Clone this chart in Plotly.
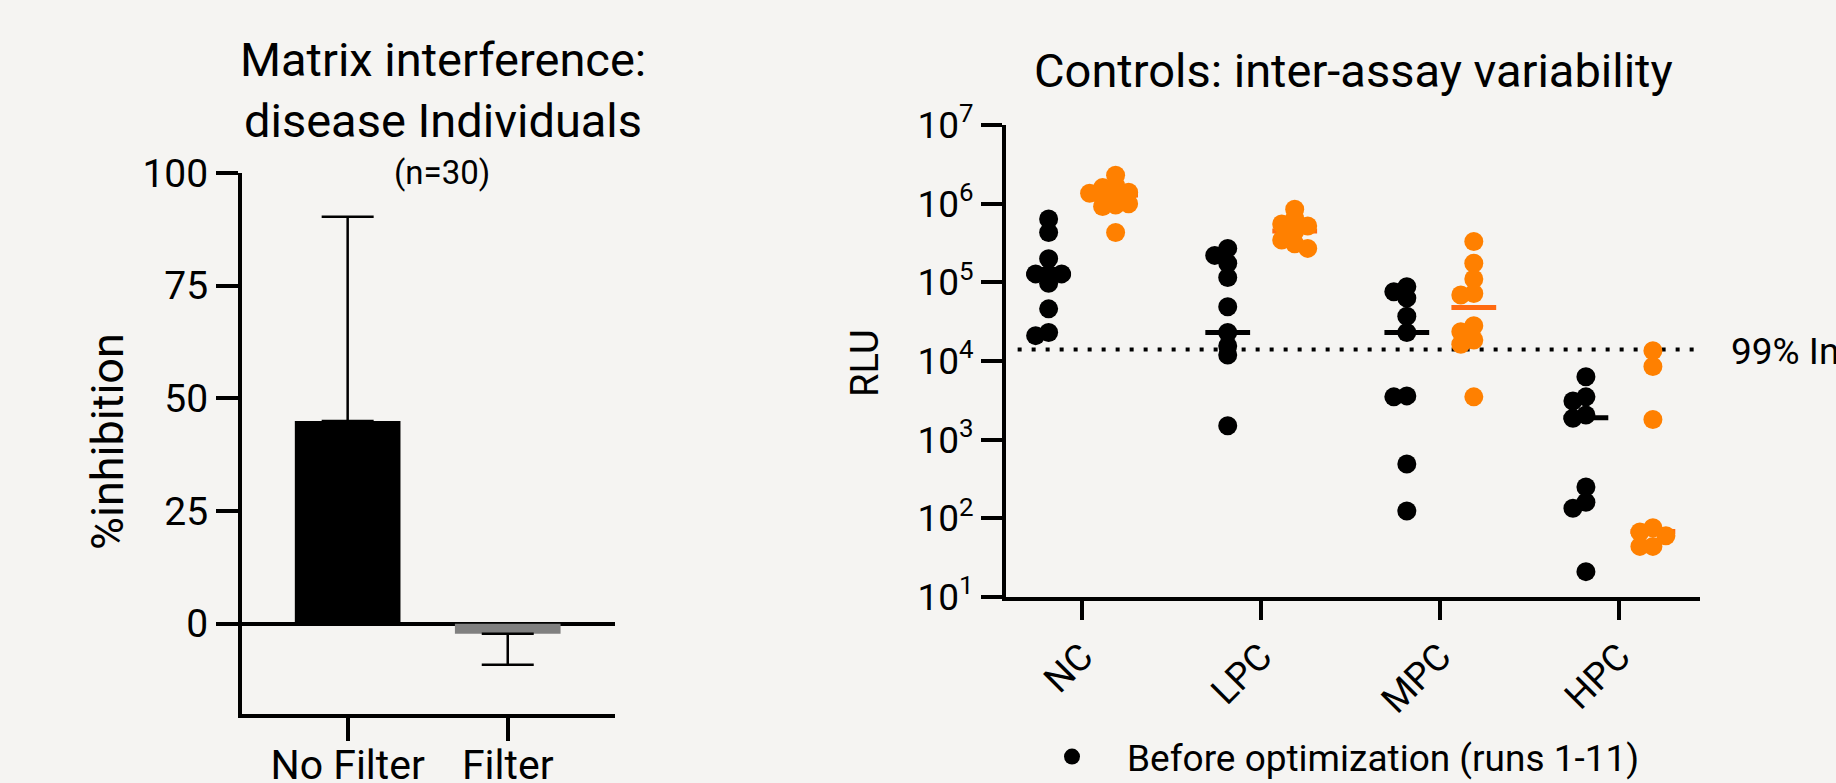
import numpy as np
import plotly.graph_objects as go

# ---------------- data ----------------
bar_categories = ["No Filter", "Filter"]
bar_means = [45.0, -2.2]
bar_err_up = [45.3, 0.0]
bar_err_down = [0.0, 6.9]
bar_colors = ["#000000", "#808080"]
bar_yticks = [0, 25, 50, 75, 100]

controls = ["NC", "LPC", "MPC", "HPC"]
rlu_exponents = [1, 2, 3, 4, 5, 6, 7]
before_nc = [6.4e5, 4.3e5, 2.0e5, 1.28e5, 1.28e5, 1.28e5, 9.7e4, 4.6e4, 2.3e4, 2.1e4]
before_lpc = [2.7e5, 2.2e5, 1.75e5, 1.15e5, 4.9e4, 2.3e4, 1.55e4, 1.19e4, 1.5e3]
before_mpc = [8.8e4, 7.6e4, 6.3e4, 3.7e4, 2.3e4, 3.6e3, 3.5e3, 490, 124]
before_hpc = [6.3e3, 3.5e3, 3.1e3, 2.06e3, 1.87e3, 250, 160, 134, 21]
after_nc = [2.3e6, 1.7e6, 1.6e6, 1.4e6, 1.36e6, 1.29e6, 1.2e6, 1.0e6, 9.6e5, 9.2e5, 4.3e5]
after_lpc = [8.5e5, 6.5e5, 5.5e5, 5.2e5, 4.4e5, 3.45e5, 3.1e5, 2.7e5]
after_mpc = [3.3e5, 1.75e5, 1.1e5, 7.2e4, 6.9e4, 2.8e4, 2.35e4, 1.85e4, 1.63e4, 3.5e3]
after_hpc = [1.35e4, 8.5e3, 1.8e3, 76, 67, 60, 44, 44]
before_center = [1.28e5, 2.3e4, 2.3e4, 1.9e3]
after_center = [1.29e6, 4.5e5, 4.8e4, 68]
threshold_99 = 1.4e4

# ---------------- layout constants ----------------
W, H = 1836, 783
FONT = "Roboto"
BG = "#F5F4F2"
ORANGE = "#FF8000"
ORANGE_LINE = "#FF6A10"

XRANGE2 = [-0.425, 3.45]
YRANGE2 = [1, 7]
X2_DOM = [1006 / W, 1700 / W]
Y2_DOM = [(H - 597) / H, (H - 125) / H]
PX_PER_UNIT = (X2_DOM[1] - X2_DOM[0]) * W / (XRANGE2[1] - XRANGE2[0])
PX_PER_DEC = (Y2_DOM[1] - Y2_DOM[0]) * H / (YRANGE2[1] - YRANGE2[0])
GROUP_OFF = 0.187
HALF_LINE = 0.125


def swarm(values, step_px=13.0, min_px=9.0):
    logs = np.log10(values) * PX_PER_DEC
    order = sorted(range(len(values)), key=lambda i: -logs[i])
    placed, offs = [], [0.0] * len(values)
    for i in order:
        y = logs[i]
        chosen = 0.0
        for k in [0, -1, 1, -2, 2, -3, 3, -4, 4]:
            dx = k * step_px
            if all((dx - px) ** 2 + (y - py) ** 2 >= min_px ** 2 for px, py in placed):
                chosen = dx
                break
        placed.append((chosen, y))
        offs[i] = chosen / PX_PER_UNIT
    return offs


fig = go.Figure()

# ---------------- left: bar chart ----------------
fig.add_trace(go.Bar(
    x=list(range(len(bar_categories))), y=bar_means,
    marker=dict(color=bar_colors, line=dict(width=0)),
    width=0.66,
    error_y=dict(type="data", symmetric=False, array=bar_err_up, arrayminus=bar_err_down,
                 color="black", thickness=2.5, width=26),
    xaxis="x", yaxis="y", showlegend=False,
))

# ---------------- right: scatter ----------------
before_sets = [before_nc, before_lpc, before_mpc, before_hpc]
after_sets = [after_nc, after_lpc, after_mpc, after_hpc]

for ci in range(len(controls)):
    xc = ci - GROUP_OFF
    fig.add_trace(go.Scatter(x=[xc - HALF_LINE, xc + HALF_LINE], y=[before_center[ci]] * 2,
                             mode="lines", line=dict(color="black", width=5),
                             xaxis="x2", yaxis="y2", showlegend=False, hoverinfo="skip"))
    xc = ci + GROUP_OFF
    fig.add_trace(go.Scatter(x=[xc - HALF_LINE, xc + HALF_LINE], y=[after_center[ci]] * 2,
                             mode="lines", line=dict(color=ORANGE_LINE, width=5),
                             xaxis="x2", yaxis="y2", showlegend=False, hoverinfo="skip"))

fig.add_trace(go.Scatter(x=[-0.36, 3.43], y=[threshold_99, threshold_99], mode="lines",
                         line=dict(color="black", width=4, dash="4px,10px"),
                         xaxis="x2", yaxis="y2", showlegend=False, hoverinfo="skip"))

bx, by, ax_, ay = [], [], [], []
for ci in range(len(controls)):
    offs = swarm(before_sets[ci])
    bx += [ci - GROUP_OFF + o for o in offs]
    by += before_sets[ci]
    offs = swarm(after_sets[ci])
    ax_ += [ci + GROUP_OFF + o for o in offs]
    ay += after_sets[ci]

fig.add_trace(go.Scatter(x=bx, y=by, mode="markers", name="Before optimization (runs 1-11)",
                         marker=dict(color="black", size=19, line=dict(width=0)),
                         xaxis="x2", yaxis="y2", showlegend=True))
fig.add_trace(go.Scatter(x=ax_, y=ay, mode="markers", name="After optimization",
                         marker=dict(color=ORANGE, size=19, line=dict(width=0)),
                         xaxis="x2", yaxis="y2", showlegend=False))

axis_common = dict(showgrid=False, showline=True, linecolor="black", ticks="outside",
                   tickcolor="black", color="black", automargin=False)

fig.update_layout(
    width=W, height=H,
    margin=dict(l=0, r=0, t=0, b=0, autoexpand=False),
    paper_bgcolor=BG, plot_bgcolor=BG,
    font=dict(family=FONT, color="black"),
    xaxis=dict(domain=[242 / W, 615 / W], anchor="y", range=[-0.66, 1.67],
               tickvals=list(range(len(bar_categories))), ticktext=bar_categories,
               linewidth=4, ticklen=23, tickwidth=4, zeroline=False,
               ticklabelstandoff=-11,
               tickfont=dict(size=41, family=FONT), **axis_common),
    yaxis=dict(domain=[(H - 714) / H, (H - 173) / H], anchor="x", range=[-20, 100],
               tickvals=bar_yticks, linewidth=4, ticklen=22, tickwidth=4,
               zeroline=True, zerolinecolor="black", zerolinewidth=4,
               tickfont=dict(size=39, family=FONT), **axis_common),
    xaxis2=dict(domain=X2_DOM, anchor="y2", range=XRANGE2,
                tickvals=list(range(len(controls))), ticktext=controls, tickangle=-45,
                linewidth=4, ticklen=19, tickwidth=4, zeroline=False,
                tickfont=dict(size=37, family=FONT), **axis_common),
    yaxis2=dict(domain=Y2_DOM, anchor="x2", type="log", range=YRANGE2,
                tickvals=[10.0 ** e for e in rlu_exponents],
                ticktext=["10<sup>%d</sup>" % e for e in rlu_exponents],
                linewidth=4, ticklen=21, tickwidth=4,
                tickfont=dict(size=37, family=FONT), **axis_common),
    legend=dict(x=1017 / W, y=1 - 757 / H, xanchor="left", yanchor="middle",
                itemwidth=100,
                bgcolor="rgba(0,0,0,0)", font=dict(size=37, family=FONT)),
    annotations=[
        dict(text="Matrix interference:", x=443 / W, y=1 - 60 / H, xref="paper", yref="paper",
             showarrow=False, xanchor="center", yanchor="middle", font=dict(size=47)),
        dict(text="disease Individuals", x=443 / W, y=1 - 120.5 / H, xref="paper", yref="paper",
             showarrow=False, xanchor="center", yanchor="middle", font=dict(size=47)),
        dict(text="(n=30)", x=442 / W, y=1 - 173 / H, xref="paper", yref="paper",
             showarrow=False, xanchor="center", yanchor="middle", font=dict(size=33)),
        dict(text="Controls: inter-assay variability", x=1353 / W, y=1 - 70 / H,
             xref="paper", yref="paper", showarrow=False, xanchor="center", yanchor="middle",
             font=dict(size=47)),
        dict(text="RLU", x=865 / W, y=1 - 363 / H, xref="paper", yref="paper", textangle=-90,
             showarrow=False, xanchor="center", yanchor="middle", font=dict(size=38)),
        dict(text="%inhibition", x=107 / W, y=1 - 442 / H, xref="paper", yref="paper",
             textangle=-90, showarrow=False, xanchor="center", yanchor="middle",
             font=dict(size=45)),
        dict(text="99% Inhibition", x=1729 / W, y=1 - 351 / H, xref="paper", yref="paper",
             showarrow=False, xanchor="left", yanchor="middle", font=dict(size=37)),
    ],
)

fig.write_html("out.html")
